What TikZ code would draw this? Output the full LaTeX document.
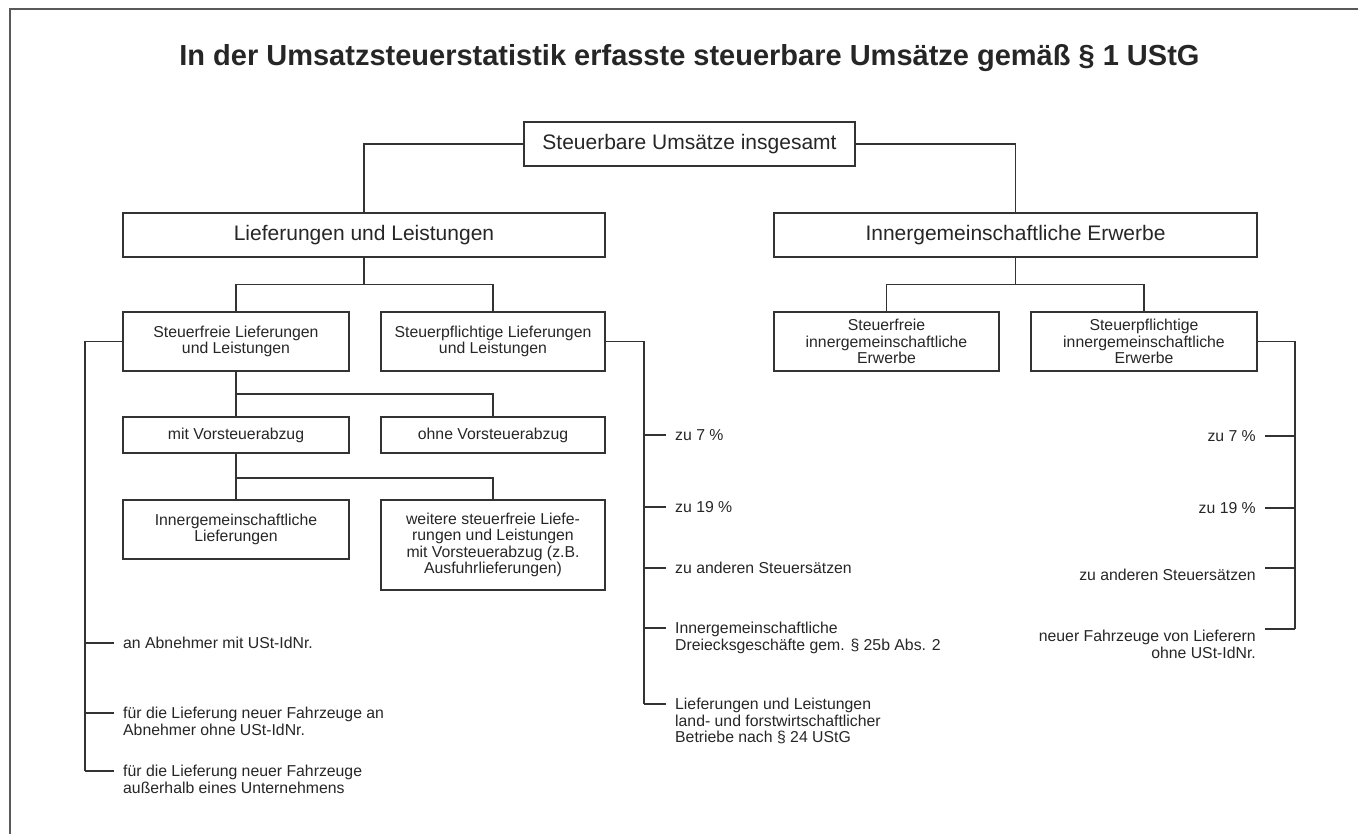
\documentclass[tikz,border=0pt]{standalone}
\usepackage{fontspec}
\setmainfont{Liberation Sans}

\begin{document}
\begin{tikzpicture}[x=1pt, y=-1pt,
    box/.style={draw=black!80, line width=1.8pt, inner sep=0pt, align=center, text=black!85},
    bigbox/.style={box, minimum height=44pt, font=\fontsize{21}{24}\selectfont},
    smallbox/.style={box, minimum width=226pt, font=\fontsize{15.8}{16.3}\selectfont},
    link/.style={line width=1.2pt, draw=black!80},
    leaf/.style={inner sep=0pt, font=\fontsize{15.8}{16.3}\selectfont, text=black!85}]
    \useasboundingbox (0,0) rectangle (1358,834);
    \draw[line width=2pt, black!65] (9.5,834) -- (9.5,9.5) -- (1358,9.5);

    \node[anchor=base, text=black!85, font=\fontsize{29}{32}\selectfont\bfseries] (title) at (689.5,66)
        {In der Umsatzsteuerstatistik erfasste steuerbare Umsätze gemäß § 1 UStG};

    % boxes
    \node[bigbox, minimum width=331pt] (total) at (689.5,144) {Steuerbare Umsätze insgesamt};
    \node[bigbox, minimum width=482pt] (liefer) at (364,235) {Lieferungen und Leistungen};
    \node[bigbox, minimum width=483pt] (erwerb) at (1015.5,235) {Innergemeinschaftliche Erwerbe};

    \node[smallbox, minimum height=59pt] (sfrei) at (236,341.5) {Steuerfreie Lieferungen\\und Leistungen};
    \node[smallbox, minimum height=59pt, minimum width=224pt] (spflicht) at (493,341.5) {Steuerpflichtige Lieferungen\\und Leistungen};
    \node[smallbox, minimum height=59pt, minimum width=225pt] (efrei) at (886.5,341.5) {Steuerfreie\\innergemeinschaftliche\\Erwerbe};
    \node[smallbox, minimum height=59pt] (epflicht) at (1144,341.5) {Steuerpflichtige\\innergemeinschaftliche\\Erwerbe};

    \node[smallbox, minimum height=36pt] (mitv) at (236,435) {mit Vorsteuerabzug};
    \node[smallbox, minimum height=36pt, minimum width=224pt] (ohnev) at (493,435) {ohne Vorsteuerabzug};
    \node[smallbox, minimum height=59pt] (iglief) at (236,529.5) {Innergemeinschaftliche\\Lieferungen};
    \node[smallbox, minimum height=90pt, minimum width=224pt] (weitere) at (493,545)
        {weitere steuerfreie Liefe-\\rungen und Leistungen\\mit Vorsteuerabzug (z.B.\\Ausfuhrlieferungen)};

    % tree links
    \draw[link] (total.west) -| (liefer.north);
    \draw[link] (total.east) -| (erwerb.north);
    \draw[link] (liefer.south) -- ++(0,27) coordinate (lj);
    \draw[link] (sfrei.north) |- (lj) -| (spflicht.north);
    \draw[link] (erwerb.south) -- ++(0,27) coordinate (ej);
    \draw[link] (efrei.north) |- (ej) -| (epflicht.north);
    \draw[link] (sfrei.south) -- (mitv.north);
    \draw[link] (sfrei.south) ++(0,22) coordinate (fj) -| (ohnev.north);
    \draw[link] (mitv.south) -- (iglief.north);
    \draw[link] (mitv.south) ++(0,24) coordinate (mj) -| (weitere.north);

    % left list
    \draw[link] (sfrei.west) -| (85,771);
    \foreach \n/\y/\txt in {a1/643/{an Abnehmer mit USt-IdNr.},
        a2/713/{für die Lieferung neuer Fahrzeuge an\\Abnehmer ohne USt-IdNr.},
        a3/771/{für die Lieferung neuer Fahrzeuge\\außerhalb eines Unternehmens}} {
        \node[leaf, align=left, anchor=north west] (\n) at (123,\y-5.7) {\txt};
        \draw[link] (85,\y) -- ([xshift=-9pt]\n.west |- 85,\y);
    }

    % middle list
    \draw[link] (spflicht.east) -| (644,704);
    \foreach \n/\y/\txt in {m1/435/{zu 7 \%}, m2/507/{zu 19 \%},
        m3/568/{zu anderen Steuersätzen},
        m4/628/{Innergemeinschaftliche\\Dreiecksgeschäfte gem. § 25b Abs. 2},
        m5/704/{Lieferungen und Leistungen\\land- und forstwirtschaftlicher\\Betriebe nach § 24 UStG}} {
        \node[leaf, align=left, anchor=north west] (\n) at (675,\y-5.7) {\txt};
        \draw[link] (644,\y) -- ([xshift=-9pt]\n.west |- 644,\y);
    }

    % right list
    \draw[link] (epflicht.east) -| (1295,629);
    \foreach \n/\y/\dy/\txt in {r1/436/0/{zu 7 \%}, r2/508/0/{zu 19 \%},
        r3/568/7/{zu anderen Steuersätzen},
        r4/629/7/{neuer Fahrzeuge von Lieferern\\ohne USt-IdNr.}} {
        \node[leaf, align=right, anchor=north east] (\n) at (1256,\y-5.7+\dy) {\txt};
        \draw[link] (1295,\y) -- ([xshift=9pt]\n.east |- 1295,\y);
    }
\end{tikzpicture}
\end{document}
